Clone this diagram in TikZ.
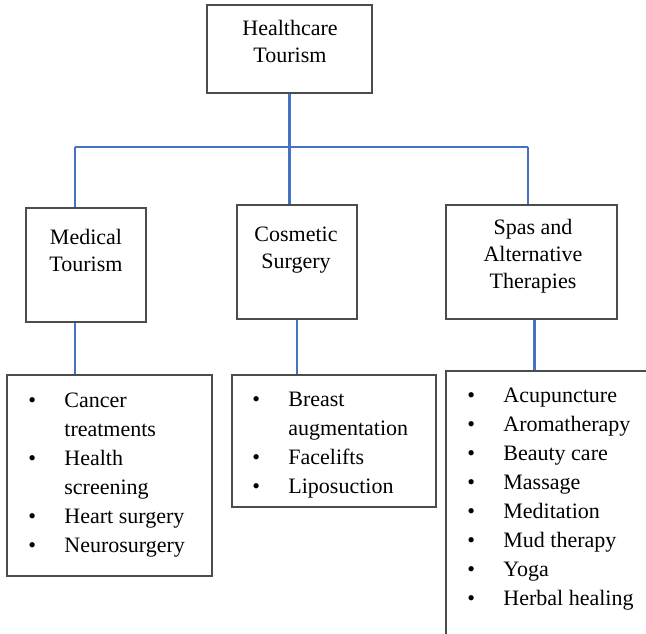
\documentclass[tikz,border=0pt]{standalone}
\usepackage{fontspec}
\newfontfamily\boxfont{Liberation Serif}
\usetikzlibrary{fit,positioning}

\tikzset{
  box/.style={draw=black!70, line width=0.6pt, inner sep=0pt},
  title/.style={align=center, inner sep=0pt,
    font=\boxfont\fontsize{11}{13.4}\selectfont},
  items/.style={inner sep=0pt, anchor=north west,
    font=\boxfont\fontsize{11}{14.5}\selectfont},
  link/.style={draw={rgb,255:red,68;green,114;blue,196}, line width=1.3pt}
}
\newcommand\itemlist[1]{\begin{tabular}{@{}p{18pt}@{}l@{}}#1\end{tabular}}

\begin{document}
\begin{tikzpicture}[x=0.5pt, y=-0.5pt]
  \useasboundingbox (0,0) rectangle (646,633);
  \clip (0,0) rectangle (646,633);

  % upper boxes
  \node
  [box, fit={(207,5) (372,93)}]
  (top) {};

  \node
  [box, fit={(26,208) (146,322)}]
  (med) {};

  \node
  [box, fit={(237,205) (357,319)}]
  (cos) {};

  \node
  [box, fit={(446,205) (617,319)}]
  (spa) {};

  \node [title, anchor=north] (toptxt) at (290,20) {Healthcare\\Tourism};
  \node [title, anchor=north] (medtxt) at (86,229) {Medical\\Tourism};
  \node [title, anchor=north] (costxt) at (296,227) {Cosmetic\\Surgery};
  \node [title, anchor=north] (spatxt) at (533,219) {Spas and\\Alternative\\Therapies};

  % lists
  \node
  [box, fit={(7,375) (212,576)}]
  (medlist) {};

  \node
  [box, fit={(232,375) (436,507)}]
  (coslist) {};

  \node
  [box, fit={(446,371) (700,700)}]
  (spalist) {};

  \node [items] (meditems) at (28,387) {\itemlist{
    \textbullet & Cancer\\
                & treatments\\
    \textbullet & Health\\
                & screening\\
    \textbullet & Heart surgery\\
    \textbullet & Neurosurgery}};

  \node [items] (cositems) at (252,386) {\itemlist{
    \textbullet & Breast\\
                & augmentation\\
    \textbullet & Facelifts\\
    \textbullet & Liposuction}};

  \node [items] (spaitems) at (467,382) {\itemlist{
    \textbullet & Acupuncture\\
    \textbullet & Aromatherapy\\
    \textbullet & Beauty care\\
    \textbullet & Massage\\
    \textbullet & Meditation\\
    \textbullet & Mud therapy\\
    \textbullet & Yoga\\
    \textbullet & Herbal healing}};

  % connectors
  \coordinate (jmed) at (75,147);
  \coordinate (jspa) at (528,147);

  \draw [link] (jmed) -- (jspa);
  \draw [link] (top.south) -- (top.south |- cos.north);
  \draw [link] (jmed) -- (jmed |- med.north);
  \draw [link] (jspa) -- (jspa |- spa.north);

  \draw [link] (med.south -| jmed) -- (medlist.north -| jmed);
  \draw [link] (cos.south) -- (cos.south |- coslist.north);
  \draw [link] ([xshift=1.5pt]spa.south) -- ([xshift=1.5pt]spa.south |- spalist.north);
\end{tikzpicture}
\end{document}
